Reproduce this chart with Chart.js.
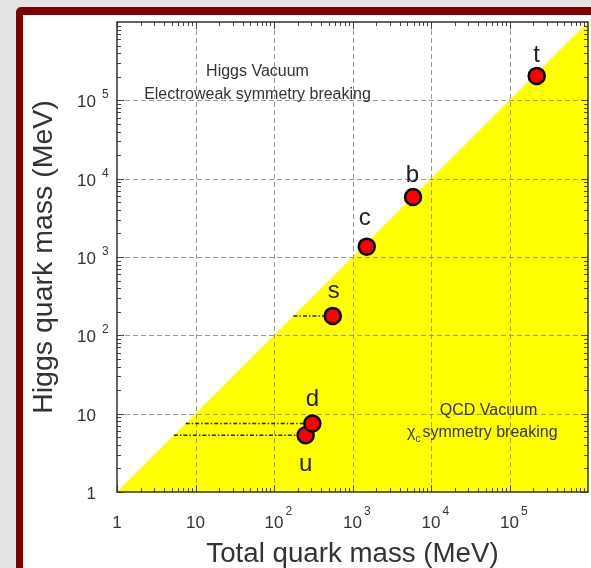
<!DOCTYPE html>
<html><head><meta charset="utf-8">
<script src="https://cdn.jsdelivr.net/npm/chart.js@4.4.1/dist/chart.umd.min.js"></script>
<style>
html,body{margin:0;padding:0;width:591px;height:568px;overflow:hidden;background:#e4e4e4;}
#frame{position:absolute;left:16px;top:7px;width:680px;height:680px;border:7px solid #800000;border-top-width:8px;border-radius:5px;background:#fff;}
#c{position:absolute;left:0;top:0;}
</style></head><body>
<div id="frame"></div>
<canvas id="c" width="591" height="568"></canvas>
<script>
// ---- data ----
const quarks = ['u', 'd', 's', 'c', 'b', 't'];
const totalMass = [253, 308, 560, 1520, 5900, 222000];   // MeV (x)
const higgsMass = [5.3, 7.5, 177, 1355, 5840, 205000];    // MeV (y)
const dashedQuarks = ['u', 'd', 's'];
const boundary = [1, 1e6];                                  // y = x diagonal
const tickValues = [1, 10, 100, 1000, 10000, 100000];
const tickBase = ['1', '10', '10', '10', '10', '10'];
const tickExp = ['', '', '2', '3', '4', '5'];
const xTitle = 'Total quark mass (MeV)';
const yTitle = 'Higgs quark mass (MeV)';
const higgsText = ['Higgs Vacuum', 'Electroweak symmetry breaking'];
const qcdText = ['QCD Vacuum', 'χ', 'c', 'symmetry breaking'];

// ---- styles ----
const FONT = '"Liberation Sans", Arial, Helvetica, sans-serif';
const labelOffsets = { u: [0, 36], d: [0, -17.5], s: [1, -18], c: [-2, -21.5], b: [-0.5, -15], t: [0, -14] };

const datasets = [];
datasets.push({
  type: 'scatter',
  data: quarks.map((q, i) => ({ x: totalMass[i], y: higgsMass[i] })),
  backgroundColor: '#ff0000', borderColor: '#000', borderWidth: 2.5,
  pointRadius: 8, order: 0
});
dashedQuarks.forEach(q => {
  const i = quarks.indexOf(q);
  datasets.push({
    type: 'line',
    data: [{ x: higgsMass[i], y: higgsMass[i] }, { x: totalMass[i], y: higgsMass[i] }],
    borderColor: '#222', borderWidth: 1.5, borderDash: [4, 2, 1.5, 2],
    pointRadius: 0, fill: false, order: 1
  });
});
datasets.push({
  type: 'line',
  data: boundary.map(v => ({ x: v, y: v })),
  borderWidth: 0, borderColor: 'rgba(0,0,0,0)', pointRadius: 0,
  backgroundColor: '#ffff00', fill: 'start', order: 2
});
const fillIndex = datasets.length - 1;

const decor = {
  id: 'decor',
  afterDatasetDraw(chart, args) {
    if (args.index !== fillIndex) return;
    const { ctx, chartArea: ca, scales: { x, y } } = chart;
    ctx.save();
    ctx.strokeStyle = '#9a9a9a'; ctx.lineWidth = 1; ctx.setLineDash([5, 3]);
    tickValues.forEach(v => {
      if (v <= 1) return;
      const px = Math.round(x.getPixelForValue(v)) + 0.5;
      ctx.beginPath(); ctx.moveTo(px, ca.top); ctx.lineTo(px, ca.bottom); ctx.stroke();
      const py = Math.round(y.getPixelForValue(v)) + 0.5;
      ctx.beginPath(); ctx.moveTo(ca.left, py); ctx.lineTo(ca.right, py); ctx.stroke();
    });
    ctx.restore();
  },
  afterDatasetsDraw(chart) {
    const { ctx, chartArea: ca, scales: { x, y } } = chart;
    ctx.save();
    // minor / major ticks on all four sides
    ctx.strokeStyle = '#444'; ctx.lineWidth = 1;
    for (let k = 0; k < 6; k++) {
      for (let m = 1; m <= 9; m++) {
        const v = m * Math.pow(10, k);
        const len = m === 1 ? 7 : 4;
        const px = Math.round(x.getPixelForValue(v)) + 0.5;
        const py = Math.round(y.getPixelForValue(v)) + 0.5;
        ctx.beginPath();
        ctx.moveTo(px, ca.bottom); ctx.lineTo(px, ca.bottom - len);
        ctx.moveTo(px, ca.top); ctx.lineTo(px, ca.top + len);
        ctx.moveTo(ca.left, py); ctx.lineTo(ca.left + len, py);
        ctx.moveTo(ca.right, py); ctx.lineTo(ca.right - len, py);
        ctx.stroke();
      }
    }
    // frame
    ctx.strokeStyle = '#333'; ctx.lineWidth = 1.5;
    ctx.strokeRect(ca.left, ca.top, ca.right - ca.left, ca.bottom - ca.top);

    // tick labels
    ctx.fillStyle = '#333';
    tickValues.forEach((v, i) => {
      const px = x.getPixelForValue(v);
      ctx.font = '17px ' + FONT;
      ctx.textBaseline = 'alphabetic';
      ctx.textAlign = 'center';
      ctx.fillText(tickBase[i], px, ca.bottom + 36);
      const w = ctx.measureText(tickBase[i]).width;
      if (tickExp[i]) {
        ctx.font = '12px ' + FONT; ctx.textAlign = 'left';
        ctx.fillText(tickExp[i], px + w / 2 + 2, ca.bottom + 23);
      }
      const py = y.getPixelForValue(v);
      ctx.font = '17px ' + FONT; ctx.textAlign = 'right';
      ctx.fillText(tickBase[i], ca.left - 21, py + 7);
      if (tickExp[i]) {
        ctx.font = '12px ' + FONT; ctx.textAlign = 'left';
        ctx.fillText(tickExp[i], ca.left - 15, py - 2);
      }
    });

    // region annotations
    ctx.fillStyle = '#333';
    ctx.font = '16px ' + FONT; ctx.textAlign = 'center';
    ctx.fillText(higgsText[0], ca.left + 140.5, ca.top + 54);
    ctx.fillText(higgsText[1], ca.left + 140.5, ca.top + 77);
    ctx.fillText(qcdText[0], ca.left + 371.5, ca.top + 393);
    ctx.textAlign = 'left';
    let cx = ca.left + 290;
    ctx.fillText(qcdText[1], cx, ca.top + 415);
    cx += ctx.measureText(qcdText[1]).width;
    ctx.font = '10px ' + FONT;
    ctx.fillText(qcdText[2], cx, ca.top + 420);
    cx += ctx.measureText(qcdText[2]).width + 2;
    ctx.font = '16px ' + FONT;
    ctx.fillText(qcdText[3], cx, ca.top + 415);

    // quark labels
    const meta = chart.getDatasetMeta(0);
    ctx.font = '24px ' + FONT; ctx.textAlign = 'center'; ctx.fillStyle = '#222';
    quarks.forEach((q, i) => {
      const el = meta.data[i];
      const off = labelOffsets[q];
      ctx.fillText(q, el.x + off[0], el.y + off[1]);
    });
    ctx.restore();
  }
};

new Chart(document.getElementById('c'), {
  data: { datasets },
  options: {
    responsive: false, animation: false, events: [],
    layout: { autoPadding: false, padding: { left: 0, right: 3, top: 22, bottom: 0 } },
    plugins: { legend: { display: false }, tooltip: { enabled: false } },
    scales: {
      x: {
        type: 'logarithmic', min: 1, max: 1e6, position: 'bottom',
        grid: { display: false }, border: { display: false }, ticks: { display: false },
        title: { display: true, text: xTitle, color: '#333', font: { family: FONT, size: 27.7, lineHeight: 1 }, padding: { top: 0, bottom: 0 } },
        afterFit(s) { s.height = 76; }
      },
      y: {
        type: 'logarithmic', min: 1, max: 1e6, position: 'left',
        grid: { display: false }, border: { display: false }, ticks: { display: false },
        title: { display: true, text: yTitle, color: '#333', font: { family: FONT, size: 28.5, lineHeight: 1 }, padding: { top: 30.25, bottom: 0 } },
        afterFit(s) { s.width = 117; }
      }
    }
  },
  plugins: [decor]
});
</script>
</body></html>
